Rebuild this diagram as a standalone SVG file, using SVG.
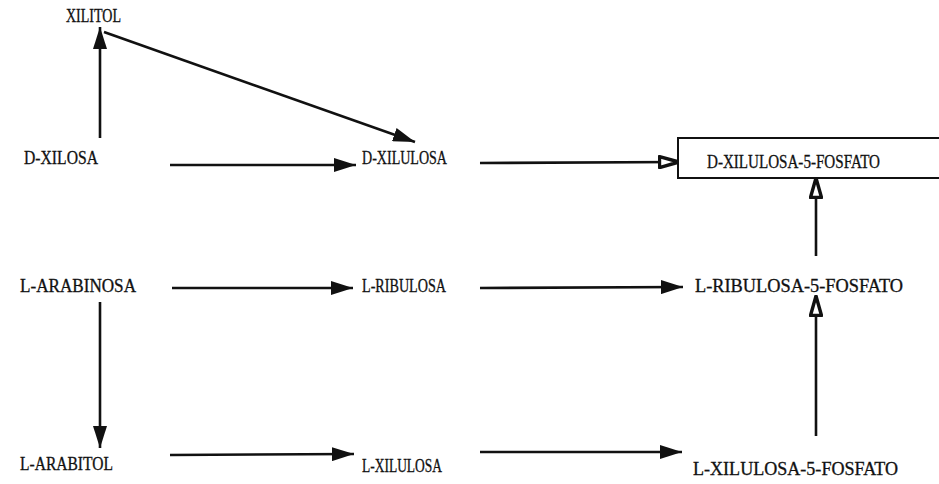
<svg xmlns="http://www.w3.org/2000/svg" width="939" height="484" viewBox="0 0 939 484">
  <style>
    text { font-family: "Liberation Serif", "DejaVu Serif", serif; font-size: 18px; fill: #111; stroke: #111; stroke-width: 0.3; }
    .edge { stroke: #111; stroke-width: 2.6; fill: none; }
    .solid { marker-end: url(#head); }
    .open { marker-end: url(#headOpen); }
    .box { fill: #fff; stroke: #111; stroke-width: 2; }
  </style>
  <defs>
    <marker id="head" viewBox="0 0 22 14" refX="22" refY="7" markerWidth="22" markerHeight="14" markerUnits="userSpaceOnUse" orient="auto">
      <path d="M0,0 L22,7 L0,14 Z" fill="#111"/>
    </marker>
    <marker id="headOpen" viewBox="0 0 22 14" refX="21" refY="7" markerWidth="22" markerHeight="14" markerUnits="userSpaceOnUse" orient="auto">
      <path d="M1.5,1.5 L21,7 L1.5,12.5 Z" fill="#fff" stroke="#111" stroke-width="3.4" stroke-linejoin="round"/>
    </marker>
  </defs>

  <!-- reaction arrows -->
  <g id="connectors">
    <line class="edge solid" x1="100" y1="138" x2="100" y2="27"/>
    <line class="edge solid" x1="104" y1="32" x2="415" y2="142"/>
    <line class="edge solid" x1="170" y1="165" x2="356" y2="165"/>
    <line class="edge open" x1="480" y1="163" x2="679" y2="162"/>
    <line class="edge open" x1="816" y1="256" x2="816" y2="178"/>
    <line class="edge solid" x1="172" y1="288" x2="353" y2="288"/>
    <line class="edge solid" x1="480" y1="288" x2="683" y2="287"/>
    <line class="edge solid" x1="100" y1="302" x2="100" y2="448"/>
    <line class="edge solid" x1="170" y1="455" x2="354" y2="454"/>
    <line class="edge solid" x1="480" y1="452" x2="682" y2="452"/>
    <line class="edge open" x1="816" y1="436" x2="816" y2="296"/>
  </g>

  <!-- compounds -->
  <g id="xilitol"><text x="66" y="22" textLength="55" lengthAdjust="spacingAndGlyphs">XILITOL</text></g>
  <g id="d-xilosa"><text x="24" y="164" textLength="74" lengthAdjust="spacingAndGlyphs">D-XILOSA</text></g>
  <g id="d-xilulosa"><text x="362" y="164" textLength="85" lengthAdjust="spacingAndGlyphs">D-XILULOSA</text></g>
  <g id="d-xilulosa-5-fosfato">
    <rect class="box" x="678" y="138" width="270" height="40"/>
    <text x="707" y="168" textLength="173" lengthAdjust="spacingAndGlyphs">D-XILULOSA-5-FOSFATO</text>
  </g>
  <g id="l-arabinosa"><text x="20" y="292" textLength="116" lengthAdjust="spacingAndGlyphs">L-ARABINOSA</text></g>
  <g id="l-ribulosa"><text x="362" y="292" textLength="84" lengthAdjust="spacingAndGlyphs">L-RIBULOSA</text></g>
  <g id="l-ribulosa-5-fosfato"><text x="695" y="292" textLength="208" lengthAdjust="spacingAndGlyphs">L-RIBULOSA-5-FOSFATO</text></g>
  <g id="l-arabitol"><text x="20" y="470" textLength="93" lengthAdjust="spacingAndGlyphs">L-ARABITOL</text></g>
  <g id="l-xilulosa"><text x="362" y="472" textLength="80" lengthAdjust="spacingAndGlyphs">L-XILULOSA</text></g>
  <g id="l-xilulosa-5-fosfato"><text x="693" y="475" textLength="205" lengthAdjust="spacingAndGlyphs">L-XILULOSA-5-FOSFATO</text></g>
</svg>
